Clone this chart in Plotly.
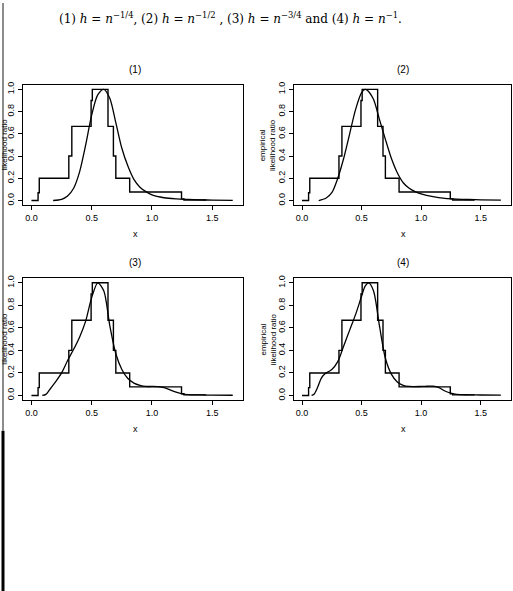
import plotly.graph_objects as go

# ---------------- data ----------------
step_x = [0.0, 0.055, 0.065, 0.31, 0.335, 0.495, 0.505, 0.635, 0.68, 0.70, 0.815, 1.245, 1.265, 1.45]
step_y = [0.0, 0.07, 0.2, 0.4, 0.667, 0.9, 1.0, 0.667, 0.4, 0.2, 0.076, 0.015, 0.005, 0.005]

c1_x = [0.18, 0.25, 0.30, 0.35, 0.40, 0.45, 0.50, 0.55, 0.60, 0.65, 0.70, 0.75, 0.80, 0.85, 0.90, 0.95, 1.0, 1.1, 1.2, 1.3, 1.4, 1.5, 1.67]
c1_y = [0.0, 0.01, 0.04, 0.11, 0.26, 0.50, 0.77, 0.95, 1.0, 0.92, 0.70, 0.47, 0.31, 0.19, 0.12, 0.08, 0.05, 0.025, 0.015, 0.01, 0.006, 0.004, 0.002]

c2_x = [0.14, 0.20, 0.25, 0.30, 0.35, 0.40, 0.45, 0.50, 0.53, 0.55, 0.60, 0.65, 0.70, 0.75, 0.80, 0.85, 0.90, 0.95, 1.0, 1.1, 1.2, 1.3, 1.4, 1.5, 1.67]
c2_y = [0.0, 0.02, 0.07, 0.20, 0.38, 0.60, 0.82, 0.97, 1.0, 0.99, 0.91, 0.73, 0.55, 0.38, 0.25, 0.16, 0.11, 0.08, 0.06, 0.035, 0.02, 0.013, 0.009, 0.006, 0.004]

c3_x = [0.09, 0.12, 0.15, 0.20, 0.25, 0.30, 0.35, 0.40, 0.45, 0.50, 0.55, 0.60, 0.65, 0.70, 0.75, 0.80, 0.85, 0.90, 0.95, 1.0, 1.05, 1.1, 1.15, 1.2, 1.25, 1.3, 1.4, 1.5, 1.67]
c3_y = [0.0, 0.01, 0.05, 0.12, 0.20, 0.31, 0.41, 0.52, 0.66, 0.87, 1.0, 0.93, 0.62, 0.37, 0.23, 0.15, 0.11, 0.09, 0.08, 0.08, 0.078, 0.07, 0.05, 0.03, 0.015, 0.008, 0.005, 0.003, 0.002]

c4_x = [0.08, 0.10, 0.13, 0.16, 0.19, 0.22, 0.25, 0.30, 0.35, 0.40, 0.45, 0.50, 0.53, 0.56, 0.60, 0.65, 0.70, 0.75, 0.80, 0.85, 0.90, 1.0, 1.05, 1.1, 1.15, 1.2, 1.25, 1.3, 1.4, 1.5, 1.67]
c4_y = [0.0, 0.01, 0.07, 0.15, 0.19, 0.21, 0.23, 0.30, 0.44, 0.58, 0.72, 0.88, 0.97, 1.0, 0.93, 0.62, 0.33, 0.19, 0.12, 0.09, 0.08, 0.08, 0.082, 0.083, 0.07, 0.04, 0.02, 0.01, 0.006, 0.004, 0.003]

panel_titles = ["(1)", "(2)", "(3)", "(4)"]
curves = [(c1_x, c1_y), (c2_x, c2_y), (c3_x, c3_y), (c4_x, c4_y)]
ylabels = ["likelihood ratio", "empirical<br>likelihood ratio", "likelihood ratio", "empirical<br>likelihood ratio"]
x_ticks = [0.0, 0.5, 1.0, 1.5]
x_ticktext = ["0.0", "0.5", "1.0", "1.5"]
y_ticks = [0.0, 0.2, 0.4, 0.6, 0.8, 1.0]
y_ticktext = ["0.0", "0.2", "0.4", "0.6", "0.8", "1.0"]
header = ("(1) <i>h</i> = <i>n</i><sup>−1/4</sup>, (2) <i>h</i> = <i>n</i><sup>−1/2</sup> , "
          "(3) <i>h</i> = <i>n</i><sup>−3/4</sup> and (4) <i>h</i> = <i>n</i><sup>−1</sup>.")

# ---------------- layout ----------------
W, H = 513, 591
px_boxes = [(23, 243, 82.3, 203), (293.7, 511, 82.3, 203),
            (23, 243, 276.7, 399), (293.7, 511, 276.7, 399)]

fig = go.Figure()
sans = "Liberation Sans, Arial, sans-serif"
layout = dict(width=W, height=H, margin=dict(l=0, r=0, t=0, b=0),
              paper_bgcolor="white", plot_bgcolor="white", showlegend=False)
annotations = []


def ann(text, px, py, size, family=sans, angle=0):
    return dict(text=text, x=px / W, y=1 - py / H, xref="paper", yref="paper", showarrow=False,
                xanchor="center", yanchor="middle", textangle=angle,
                font=dict(family=family, size=size, color="black"))


for i, (x0, x1, y0, y1) in enumerate(px_boxes):
    k = "" if i == 0 else str(i + 1)
    cx, cy = curves[i]
    fig.add_trace(go.Scatter(x=step_x, y=step_y, mode="lines", line=dict(color="black", width=1.4, shape="hv"),
                             xaxis="x" + k, yaxis="y" + k))
    fig.add_trace(go.Scatter(x=cx, y=cy, mode="lines", line=dict(color="black", width=1.3, shape="spline", smoothing=0.8),
                             xaxis="x" + k, yaxis="y" + k))
    common = dict(showline=True, linecolor="black", linewidth=1, mirror=True, ticks="outside",
                  ticklen=4, tickcolor="black", showgrid=False, zeroline=False,
                  tickfont=dict(family=sans, size=9, color="black"))
    layout["xaxis" + k] = dict(domain=[x0 / W, x1 / W], range=[-0.07, 1.755], anchor="y" + k,
                               tickvals=x_ticks, ticktext=x_ticktext, **common)
    layout["yaxis" + k] = dict(domain=[1 - y1 / H, 1 - y0 / H], range=[-0.04, 1.04], anchor="x" + k,
                               tickvals=y_ticks, ticktext=y_ticktext, tickangle=-90, **common)
    cxp = 135 if i % 2 == 0 else 403
    annotations.append(ann(panel_titles[i], cxp, y0 - 15.5, 10))
    annotations.append(ann("x", cxp, y1 + 29.5, 9))
    lx = 4.5 if i % 2 == 0 else 268
    annotations.append(ann(ylabels[i], lx, (y0 + y1) / 2, 8, angle=-90))

annotations.append(ann(header, 230, 15, 12, family="DejaVu Serif, serif"))
layout["annotations"] = annotations
layout["shapes"] = [
    dict(type="line", xref="paper", yref="paper", x0=3 / W, x1=3 / W, y0=1, y1=1 - 430 / H,
         line=dict(color="#666666", width=1.5)),
    dict(type="line", xref="paper", yref="paper", x0=3 / W, x1=3 / W, y0=1 - 430 / H, y1=0,
         line=dict(color="black", width=3)),
]
fig.update_layout(**layout)
fig.write_html("out.html")
